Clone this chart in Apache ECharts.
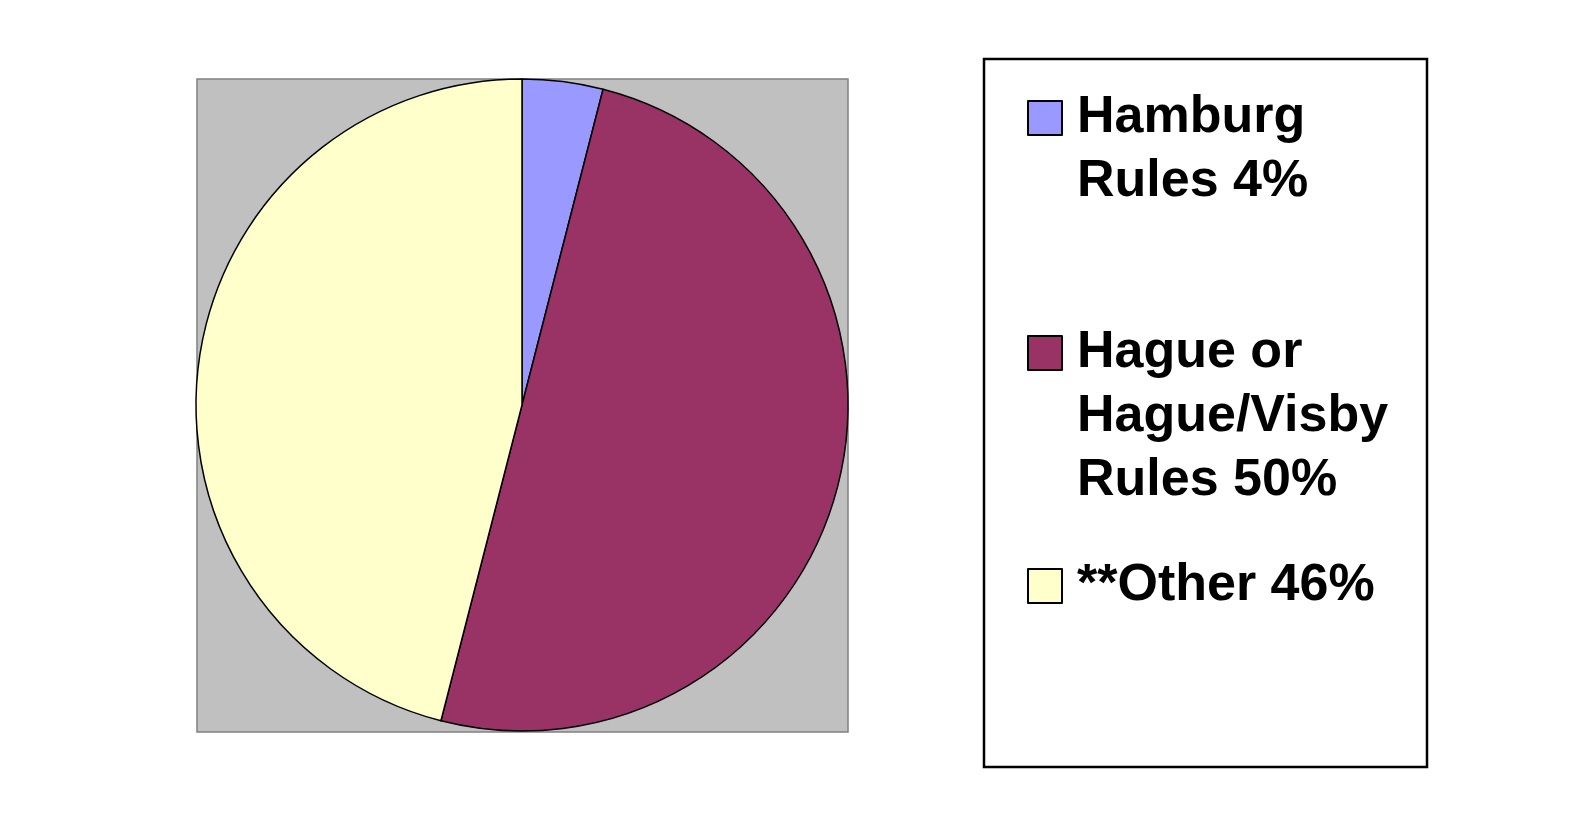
<!DOCTYPE html>
<html>
<head>
<meta charset="utf-8">
<script src="https://cdn.jsdelivr.net/npm/echarts@6/dist/echarts.min.js"></script>
<style>
html,body{margin:0;padding:0;background:#fff;}
#main{width:1594px;height:832px;}
</style>
</head>
<body>
<div id="main"></div>
<script>
// data
var names=['Hamburg\nRules','Hague or\nHague/Visby\nRules','**Other'];
var values=[4,50,46];
var colors=['#9999FF','#993366','#FFFFCC'];

var LH=64;        // legend line height
var iconMid=[117,352,585];

var chart=echarts.init(document.getElementById('main'));

var pieData=[];
for(var i=0;i<names.length;i++){
	pieData.push({name:names[i],value:values[i],itemStyle:{color:colors[i]}});
}

// one legend per item so the gaps can follow the reference.
// the icon path keeps the square level with the first text line
var legends=[];
for(var i=0;i<names.length;i++){
	var lines=names[i].split('\n').length;
	var h=lines*LH;
	legends.push({
		data:[names[i]],
		orient:'vertical',
		left:1027,
		top:iconMid[i]-LH/2,
		padding:0,
		icon:'path://M0,0M0,15H34V49H0ZM34,'+h,
		itemWidth:34,
		itemHeight:h,
		itemStyle:{borderColor:'#000',borderWidth:2},
		selectedMode:false,
		formatter:function(n){
			return n+' '+values[names.indexOf(n)]+'%';
		},
		textStyle:{
			fontFamily:'Liberation Sans, Arial, sans-serif',
			fontWeight:'bold',
			fontSize:52,
			color:'#000',
			lineHeight:LH,
			padding:[0,0,0,10]
		}
	});
}

var option={
	backgroundColor:'#fff',
	animation:false,
	graphic:[
		{type:'rect',z:-10,shape:{x:197,y:79,width:651,height:653},
			style:{fill:'#C0C0C0',stroke:'#808080',lineWidth:1.5}},
		{type:'rect',z:-10,shape:{x:984,y:59,width:443,height:708},
			style:{fill:'#fff',stroke:'#000',lineWidth:2.5}}
	],
	legend:legends,
	series:[{
		type:'pie',
		center:[522,405],
		radius:326,
		startAngle:90,
		clockwise:true,
		label:{show:false},
		labelLine:{show:false},
		emphasis:{disabled:true},
		itemStyle:{borderColor:'#000',borderWidth:1.5},
		data:pieData
	}]
};
chart.setOption(option);
</script>
</body>
</html>
